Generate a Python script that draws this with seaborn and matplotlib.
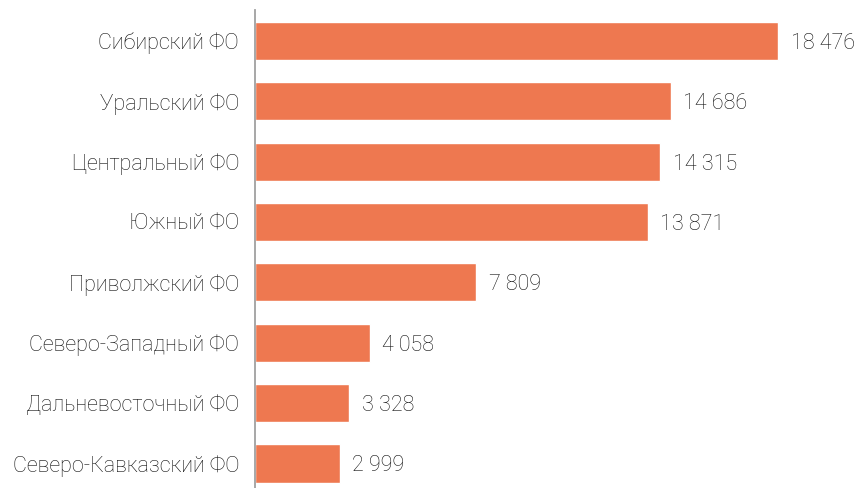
import matplotlib
matplotlib.use("Agg")
import matplotlib.pyplot as plt
import seaborn as sns
import pandas as pd

okruga = ["Сибирский ФО", "Уральский ФО", "Центральный ФО", "Южный ФО",
          "Приволжский ФО", "Северо-Западный ФО", "Дальневосточный ФО",
          "Северо-Кавказский ФО"]
znacheniya = [18476, 14686, 14315, 13871, 7809, 4058, 3328, 2999]

sns.set_style("white")
plt.rcParams['font.family'] = ['Roboto', 'DejaVu Sans']
plt.rcParams['font.weight'] = 'light'

df = pd.DataFrame({"okrug": okruga, "val": znacheniya})

fig = plt.figure(figsize=(8.58, 4.88), dpi=100)
ax = fig.add_axes([255 / 858, 0, 603 / 858, 1 - 10 / 488])
sns.barplot(data=df, x="val", y="okrug", color="#EE7850", width=0.63,
            saturation=1, ax=ax)

ax.set_xlim(0, 21292)
ax.set_ylim(7.406, -0.51)
for s in ["top", "right", "bottom"]:
    ax.spines[s].set_visible(False)
ax.spines["left"].set_color("#a0a0a0")
ax.spines["left"].set_linewidth(1.3)
ax.set_xticks([])
ax.set_xlabel("")
ax.set_ylabel("")
ax.tick_params(axis="y", length=0, pad=11.5, labelsize=15.5, labelcolor="#111111")

labels = [f"{v:,}".replace(",", " ") for v in znacheniya]
texts = ax.bar_label(ax.containers[0], labels=labels, padding=9, fontsize=15.5,
                     color="#111111")
for t in texts:
    t.set_verticalalignment("center_baseline")

fig.savefig("out.png", dpi=100)
